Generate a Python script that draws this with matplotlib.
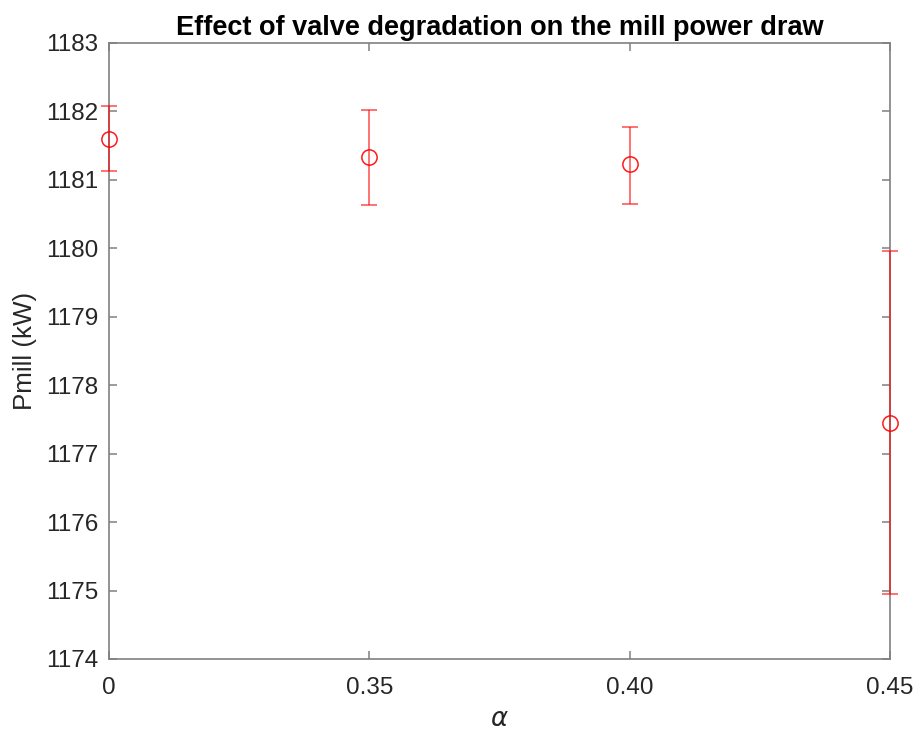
import matplotlib
matplotlib.use("Agg")
import matplotlib.pyplot as plt
import numpy as np

plt.rcParams['font.family'] = ['Liberation Sans', 'DejaVu Sans']

alpha_labels = ['0', '0.35', '0.40', '0.45']
pmill = [1181.593, 1181.330, 1181.228, 1177.452]
err_upper_val = [1182.084, 1182.021, 1181.777, 1179.965]
err_lower_val = [1181.125, 1180.633, 1180.652, 1174.949]

x = np.arange(1, len(alpha_labels) + 1)
y = np.array(pmill)
yerr = np.array([y - np.array(err_lower_val), np.array(err_upper_val) - y])

fig = plt.figure(figsize=(9.15, 7.31), dpi=100)
ax = fig.add_axes([109/915, 1 - 659/731, (890-109)/915, (659-43)/731])

ax.errorbar(x, y, yerr=yerr, fmt='none', ecolor=(1, 0, 0, 0.6), elinewidth=1.3,
            capsize=5.7, capthick=1.3, clip_on=False, zorder=3)
ax.plot(x, y, 'o', mfc='none', mec=(1, 0, 0, 0.9), ms=11, mew=1.1, clip_on=False, zorder=4)

ax.set_xlim(1, 4)
ax.set_ylim(1174, 1183)
ax.set_xticks(x)
ax.set_xticklabels(alpha_labels)
ax.set_yticks(np.arange(1174, 1184, 1))

for s in ax.spines.values():
    s.set_color('#808080')
    s.set_linewidth(1.2)
ax.tick_params(direction='in', length=5.5, width=1.1, color='#808080', labelcolor='#262626',
               labelsize=17.5, top=True, right=True)
ax.tick_params(axis='x', pad=13)
ax.tick_params(axis='y', pad=8)

ax.set_title('Effect of valve degradation on the mill power draw', fontsize=19.5,
             fontweight='bold', pad=6)
ax.set_ylabel('Pmill (kW)', fontsize=18.7, color='#262626', labelpad=6)
ax.set_xlabel(r'$\alpha$', fontsize=18.7, color='#262626', labelpad=6)

fig.savefig('out.png', dpi=100)
